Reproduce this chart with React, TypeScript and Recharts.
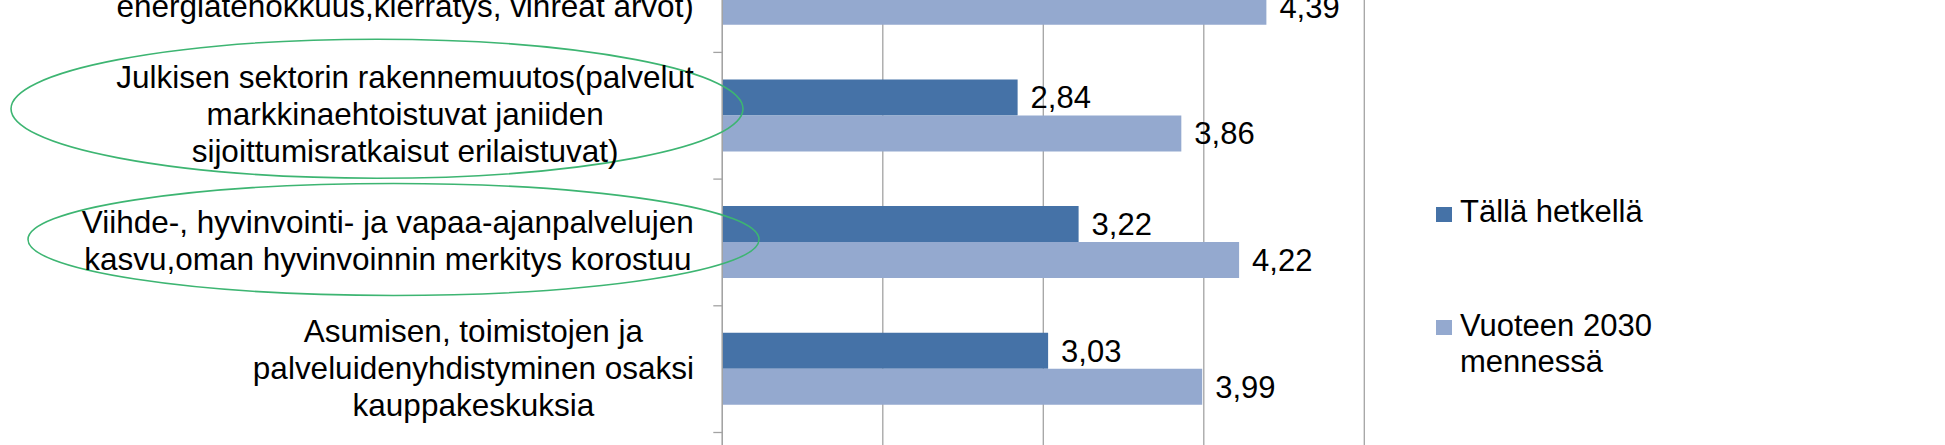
import React from 'react';
import { BarChart, Bar, XAxis, YAxis, CartesianGrid, LabelList, Legend, ReferenceDot } from 'recharts';

// ---------- data ----------
const categoryLines: string[][] = [
  ['', 'energiatehokkuus,kierrätys, vihreät arvot)'],
  ['Julkisen sektorin rakennemuutos(palvelut', 'markkinaehtoistuvat janiiden', 'sijoittumisratkaisut erilaistuvat)'],
  ['Viihde-, hyvinvointi- ja vapaa-ajanpalvelujen', 'kasvu,oman hyvinvoinnin merkitys korostuu'],
  ['Asumisen, toimistojen ja', 'palveluidenyhdistyminen osaksi', 'kauppakeskuksia'],
  [''],
];
const categories: string[] = categoryLines.map((l) => l.join(' ').trim());
const nowValues: (number | null)[] = [3.3, 2.84, 3.22, 3.03, null];
const futureValues: (number | null)[] = [4.39, 3.86, 4.22, 3.99, null];
const seriesNames = ['Tällä hetkellä', 'Vuoteen 2030 mennessä'];
const xTicks = [1, 2, 3, 4, 5];
const highlighted = [categories[1], categories[2]];

const data = categories.map((name, i) => ({ name, now: nowValues[i], future: futureValues[i] }));

// ---------- layout / style ----------
const W = 1945;
const VIEW_H = 445;
const SHIFT = 100;
const N = categories.length;
const BAND = 126.7;
const AXIS_X = 722.3;
const PLOT_RIGHT = 1364.3;
const PLOT_TOP = -74.3 + SHIFT;
const BOTTOM_M = 20;
const CHART_H = PLOT_TOP + BAND * N + BOTTOM_M;
const FONT = '"Liberation Sans", Arial, sans-serif';
const CAT_FS = 31.5;
const VAL_FS = 31;
const LEG_FS = 31;
const LABEL_RIGHT = 694;
const LINE_H = 37;
const DARK = '#4572A7';
const LIGHT = '#94A9CF';
const GRID = '#A3A3A3';
const GREEN = '#3DB572';
const ellipseStyles = [
  { dx: 377 - AXIS_X, dy: -7, rx: 366, ry: 69.5 },
  { dx: 393.5 - AXIS_X, dy: -3, rx: 365.5, ry: 56 },
];

let ctx: CanvasRenderingContext2D | null = null;
function measure(t: string): number {
  if (!ctx) {
    const c = document.createElement('canvas');
    ctx = c.getContext('2d');
  }
  if (!ctx) return t.length * CAT_FS * 0.5;
  ctx.font = `${CAT_FS}px "Liberation Sans"`;
  return ctx.measureText(t).width;
}

const linesByName: Record<string, string[]> = {};
categories.forEach((c, i) => (linesByName[c] = categoryLines[i]));

const CategoryTick = (props: any) => {
  const { y, payload, index } = props;
  const lines = linesByName[payload.value] ?? [String(payload.value)];
  const half = BAND / 2;
  const maxW = Math.max(...lines.map(measure));
  const cx = LABEL_RIGHT - maxW / 2;
  const n = lines.length;
  return (
    <g>
      <line x1={AXIS_X - 9} x2={AXIS_X} y1={y - half} y2={y - half} stroke={GRID} strokeWidth={1.3} />
      {index === N - 1 && (
        <line x1={AXIS_X - 9} x2={AXIS_X} y1={y + half} y2={y + half} stroke={GRID} strokeWidth={1.3} />
      )}
      <text textAnchor="middle" fontSize={CAT_FS} fill="#000" fontFamily={FONT}>
        {lines.map((ln, i) => (
          <tspan key={i} x={cx} y={y + 9.5 + (i - (n - 1) / 2) * LINE_H}>
            {ln}
          </tspan>
        ))}
      </text>
    </g>
  );
};

const fmt = (v: any) => (v == null ? '' : Number(v).toFixed(2).replace('.', ','));

const renderLegend = () => {
  const base: React.CSSProperties = {
    position: 'absolute',
    fontSize: LEG_FS,
    lineHeight: '36px',
    fontFamily: FONT,
    color: '#000',
    whiteSpace: 'nowrap',
    textAlign: 'left',
  };
  return (
    <div style={{ position: 'relative', width: 0, height: 0 }}>
      <div style={{ position: 'absolute', left: 1436, top: 206.7 + SHIFT, width: 16, height: 15, background: DARK }} />
      <div style={{ ...base, left: 1460, top: 193.9 + SHIFT }}>{seriesNames[0]}</div>
      <div style={{ position: 'absolute', left: 1436, top: 320 + SHIFT, width: 16, height: 15, background: LIGHT }} />
      <div style={{ ...base, left: 1460, top: 307.9 + SHIFT }}>
        Vuoteen 2030
        <br />
        mennessä
      </div>
    </div>
  );
};

export default function App() {
  return (
    <div
      style={{
        position: 'absolute',
        left: 0,
        top: 0,
        width: W,
        height: VIEW_H,
        overflow: 'hidden',
        background: '#fff',
      }}
    >
      <BarChart
        width={W}
        height={CHART_H}
        data={data}
        layout="vertical"
        margin={{ top: PLOT_TOP, right: W - PLOT_RIGHT, bottom: BOTTOM_M, left: 0 }}
        barSize={36}
        barGap={0}
        style={{ marginTop: -SHIFT, fontFamily: FONT }}
      >
        <CartesianGrid horizontal={false} vertical={true} stroke={GRID} strokeWidth={1.3} />
        <XAxis type="number" domain={[1, 5]} ticks={xTicks} hide />
        <YAxis
          type="category"
          dataKey="name"
          width={AXIS_X}
          axisLine={{ stroke: GRID, strokeWidth: 1.3 }}
          tickLine={false}
          tick={<CategoryTick />}
          interval={0}
        />
        <Legend
          layout="vertical"
          align="center"
          verticalAlign="middle"
          wrapperStyle={{ left: 0, top: 0, width: 0, height: 0 }}
          content={renderLegend}
        />
        <Bar dataKey="now" name={seriesNames[0]} fill={DARK} isAnimationActive={false}>
          <LabelList dataKey="now" position="right" offset={13} formatter={fmt} fill="#000" fontSize={VAL_FS} />
        </Bar>
        <Bar dataKey="future" name={seriesNames[1]} fill={LIGHT} isAnimationActive={false}>
          <LabelList dataKey="future" position="right" offset={13} formatter={fmt} fill="#000" fontSize={VAL_FS} />
        </Bar>
        {highlighted.map((cat, i) => (
          <ReferenceDot
            key={cat}
            x={1}
            y={cat}
            ifOverflow="visible"
            shape={(p: any) => (
              <ellipse
                cx={p.cx + ellipseStyles[i].dx}
                cy={p.cy + ellipseStyles[i].dy}
                rx={ellipseStyles[i].rx}
                ry={ellipseStyles[i].ry}
                fill="none"
                stroke={GREEN}
                strokeWidth={1.6}
              />
            )}
          />
        ))}
      </BarChart>
    </div>
  );
}
